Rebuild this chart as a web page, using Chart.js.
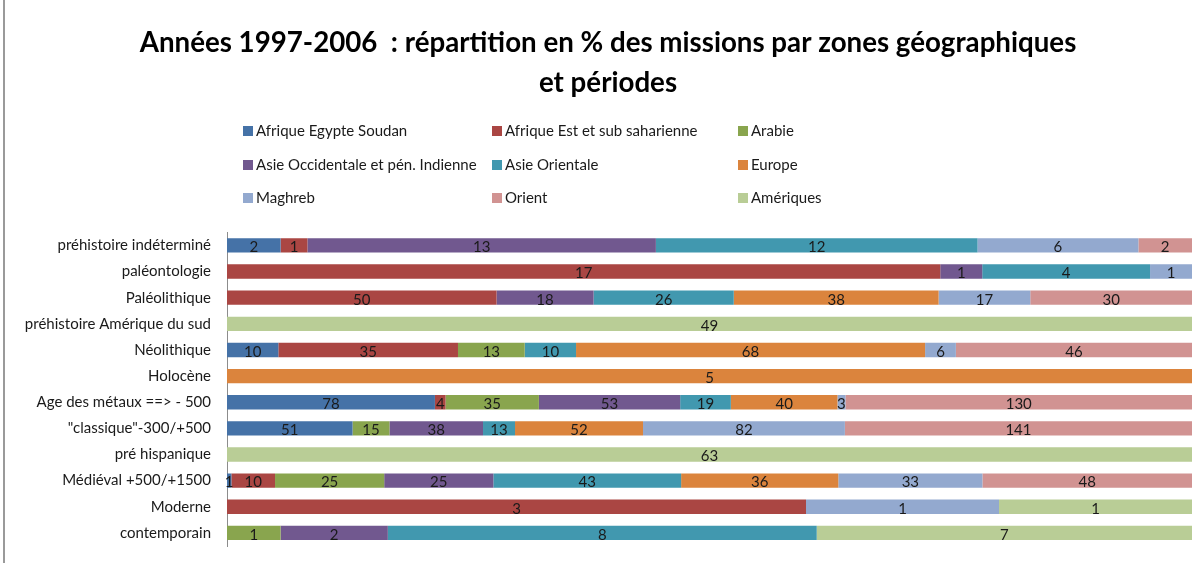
<!DOCTYPE html>
<html>
<head>
<meta charset="utf-8">
<script src="https://cdn.jsdelivr.net/npm/chart.js@4"></script>
<style>
  html, body { margin: 0; padding: 0; background: #fff; }
  #wrap { position: relative; width: 1203px; height: 563px; }
  #edge { position: absolute; left: 3px; top: 0; width: 2px; height: 563px; background: #9a9a9a; }
</style>
</head>
<body>
<div id="wrap">
  <canvas id="chart" width="1203" height="563"></canvas>
  <div id="edge"></div>
</div>
<script>
// catégories (de haut en bas)
const categories = [
  'préhistoire indéterminé', 'paléontologie', 'Paléolithique', 'préhistoire Amérique du sud',
  'Néolithique', 'Holocène', 'Age des métaux ==> - 500', '"classique"-300/+500',
  'pré hispanique', 'Médiéval +500/+1500', 'Moderne', 'contemporain'
];

// nombre de missions par zone
const afriqueEgypteSoudan = [2, 0, 0, 0, 10, 0, 78, 51, 0, 1, 0, 0];
const afriqueEst          = [1, 17, 50, 0, 35, 0, 4, 0, 0, 10, 3, 0];
const arabie              = [0, 0, 0, 0, 13, 0, 35, 15, 0, 25, 0, 1];
const asieOccidentale     = [13, 1, 18, 0, 0, 0, 53, 38, 0, 25, 0, 2];
const asieOrientale       = [12, 4, 26, 0, 10, 0, 19, 13, 0, 43, 0, 8];
const europe              = [0, 0, 38, 0, 68, 5, 40, 52, 0, 36, 0, 0];
const maghreb             = [6, 1, 17, 0, 6, 0, 3, 82, 0, 33, 1, 0];
const orient              = [2, 0, 30, 0, 46, 0, 130, 141, 0, 48, 0, 0];
const ameriques           = [0, 0, 0, 49, 0, 0, 0, 0, 63, 0, 1, 7];

const seriesNames = [
  'Afrique Egypte Soudan', 'Afrique Est et sub saharienne', 'Arabie',
  'Asie Occidentale et pén. Indienne', 'Asie Orientale', 'Europe',
  'Maghreb', 'Orient', 'Amériques'
];
const seriesValues = [afriqueEgypteSoudan, afriqueEst, arabie, asieOccidentale,
  asieOrientale, europe, maghreb, orient, ameriques];
const seriesColors = ['#4572A7', '#AA4643', '#89A54E', '#71588F', '#4198AF',
  '#DB843D', '#93A9CF', '#D19392', '#B9CD96'];

const FONT = 'Lato, "Open Sans", sans-serif';

// totaux par catégorie -> pourcentages
const totals = categories.map((c, i) => seriesValues.reduce((s, arr) => s + arr[i], 0));

const datasets = seriesNames.map((name, s) => ({
  label: name,
  data: seriesValues[s].map((v, i) => v / totals[i] * 100),
  counts: seriesValues[s],
  backgroundColor: seriesColors[s],
  borderWidth: 0,
  categoryPercentage: 1,
  barPercentage: 0.55
}));

// étiquettes de données (valeurs brutes, centrées)
const labelPlugin = {
  id: 'labels',
  afterDatasetsDraw(chart) {
    const ctx = chart.ctx;
    ctx.save();
    ctx.font = '15px ' + FONT;
    ctx.fillStyle = '#1a1a1a';
    ctx.textAlign = 'center';
    ctx.textBaseline = 'middle';
    chart.data.datasets.forEach((ds, d) => {
      const meta = chart.getDatasetMeta(d);
      meta.data.forEach((bar, i) => {
        const v = ds.counts[i];
        if (!v) return;
        ctx.fillText(String(v), (bar.x + bar.base) / 2, bar.y + 2);
      });
    });
    ctx.restore();
  }
};

// légende sur 3 colonnes
const legendPlugin = {
  id: 'gridLegend',
  afterDraw(chart) {
    const ctx = chart.ctx;
    const colX = [243, 492, 738];
    const rowY = [131, 165, 198];
    ctx.save();
    ctx.font = '15px ' + FONT;
    ctx.textBaseline = 'middle';
    ctx.textAlign = 'left';
    seriesNames.forEach((name, s) => {
      const x = colX[s % 3], y = rowY[Math.floor(s / 3)];
      ctx.fillStyle = seriesColors[s];
      ctx.fillRect(x, y - 5, 10, 10);
      ctx.fillStyle = '#1a1a1a';
      ctx.fillText(name, x + 13, y);
    });
    ctx.restore();
  }
};

new Chart(document.getElementById('chart').getContext('2d'), {
  type: 'bar',
  data: { labels: categories, datasets: datasets },
  options: {
    indexAxis: 'y',
    responsive: false,
    animation: false,
    layout: { padding: { left: 24, right: 11, top: 0, bottom: 17 } },
    plugins: {
      legend: { display: false },
      tooltip: { enabled: false },
      title: {
        display: true,
        text: ['Années 1997-2006  : répartition en % des missions par zones géographiques', 'et périodes'],
        color: '#000',
        font: { family: FONT, size: 27.7, weight: 'bold', lineHeight: 1.45 },
        padding: { top: 23, bottom: 129 }
      }
    },
    scales: {
      x: { stacked: true, min: 0, max: 100, display: false },
      y: {
        stacked: true,
        grid: { display: false, drawTicks: false },
        border: { display: true, color: '#8c8c8c', width: 1 },
        ticks: { color: '#1a1a1a', padding: 16, font: { family: FONT, size: 15 } },
        afterFit(scale) {
          scale.width = 203;
          scale.paddingTop = 0;
          scale.paddingBottom = 0;
        }
      }
    }
  },
  plugins: [labelPlugin, legendPlugin]
});
</script>
</body>
</html>
